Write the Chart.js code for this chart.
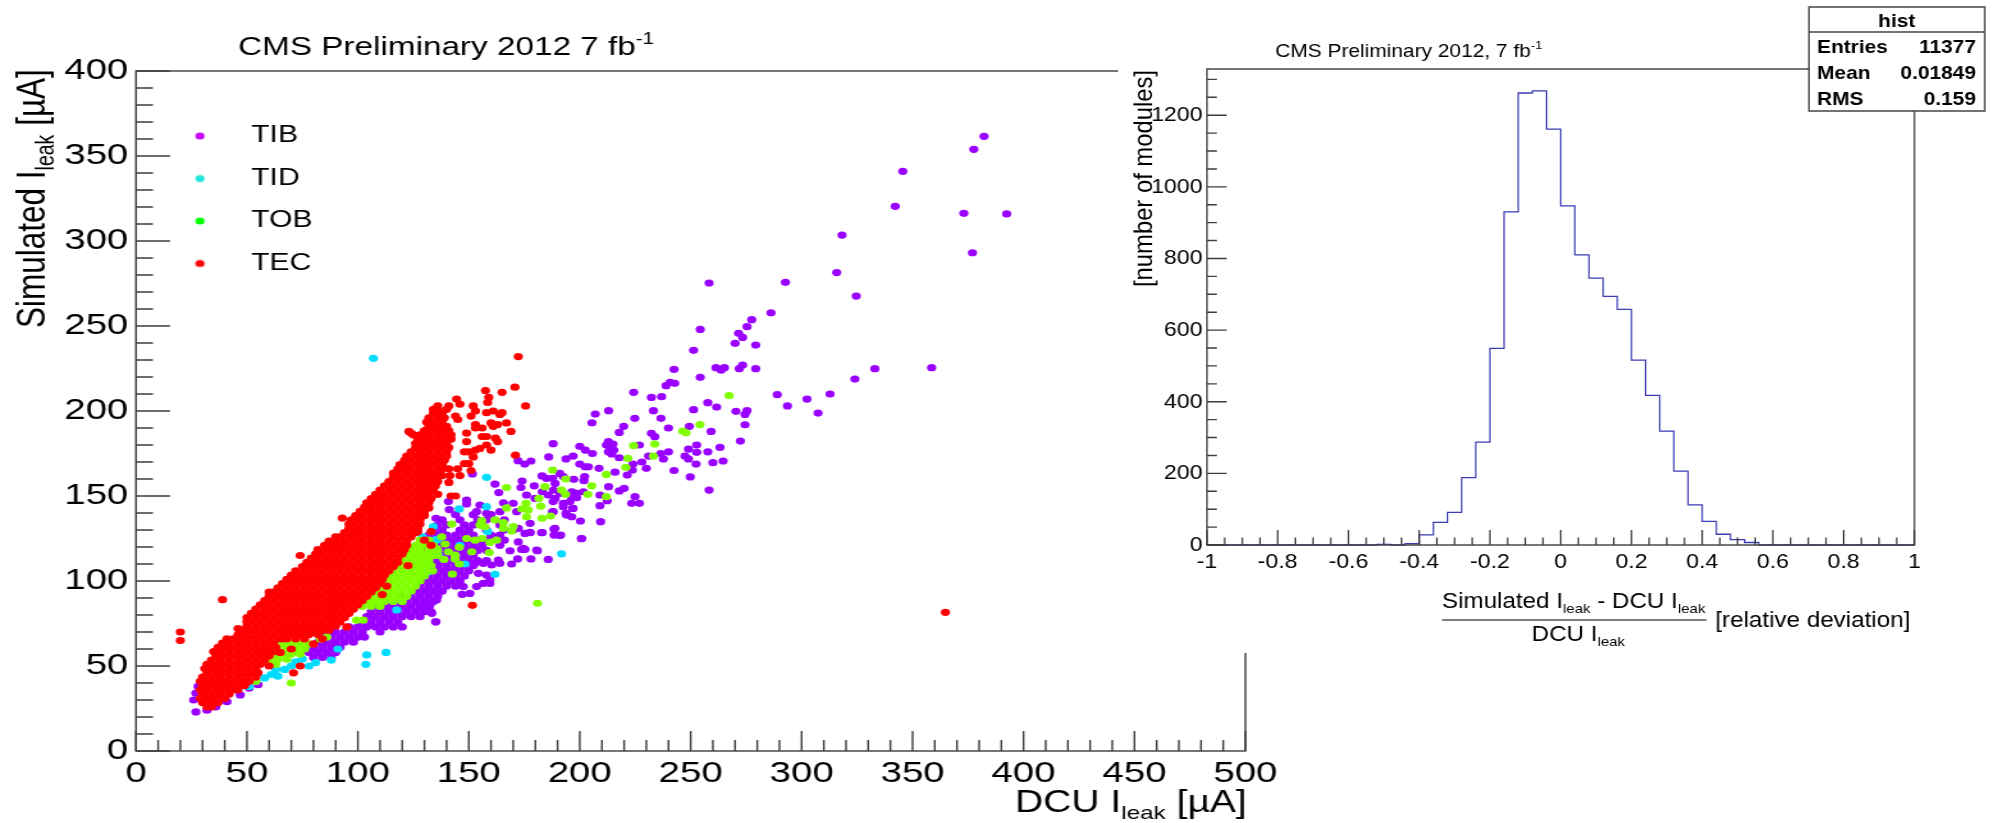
<!DOCTYPE html>
<html>
<head>
<meta charset="utf-8">
<title>CMS leakage current</title>
<script src="https://cdn.jsdelivr.net/npm/chart.js@4/dist/chart.umd.js"></script>
<style>
  html, body { margin: 0; background: #fff; }
  canvas { position: absolute; top: 0; transform-origin: 0 0; background: #fff; }
  #scatter { left: 0; transform: scaleX(1.28); }
  #hist { left: 1118px; transform: scaleX(1.1); }
</style>
</head>
<body>
<canvas id="scatter" width="1016" height="823"></canvas>
<canvas id="hist" width="796" height="653"></canvas>
<script>
var tibRows = [
  [55,80,84,88],[58,78,82,86,90],[61,80,84,88,92],[64,82,86,90,94,98],[67,84,88,92,96,100,103],[70,86,90,94,98,102,110],
  [73,96,100,104,108,112,116,120],[76,102,106,110,114,118,135],[79,104,108,112,116,120,124,128],[82,106,110,114,118,122,126,130,133],
  [85,108,112,116,120,124,128,132],[88,114,118,122,126,130,134],[91,120,124,128,132,136],[94,126,130,134,138],[97,128,132,136,140,144],
  [100,130,134,138,142,146],[103,132,136,140,144,148],[106,134,138,142,146,150],[109,132,136,140,144,148,152],[112,134,138,142,146,150,154,158],
  [115,132,136,140,144,148,152],[118,130,134,138,142,146,150,154,158],[121,132,136,140,144,148,152,156,164],
  [124,130,134,138,142,146,150,154,158,166],[127,132,136,140,144,148,152,160,164],[130,134,138,146,150,158,166,170],
  [133,136,140,148,152,156,164],[136,138,146,154,158,166],[139,144,152,160]
];
var tibPoints = [
  [27,23],[32,24],[36,26],[41,29],[47,33],[51,37],[26,30],[28,38],[27,34],[55,39],
  [382.2,361.6],[377.6,353.9],[345.6,341],[342.2,320.4],[373.1,316.3],[392.4,315.9],[318.2,303.5],[377,293.1],[315.8,281.4],[258.3,275.3],
  [292.7,275.7],[324.6,267.6],[286.2,257.8],[277.5,253.7],[275.4,249.6],[254.3,248],[271.6,245.7],[273.4,243.3],[270,239.8],[279.3,238.8],
  [251.3,235.7],[242.5,224.5],[273.4,227],[271.9,224.9],[261.4,225.5],[263.7,224.1],[265.2,225.5],[279.3,224.9],[254.3,219.8],[333,224.9],
  [358.6,225.5],[324,218.8],[312.8,210],[289,209.6],[302.4,207],[293.6,203],[307.4,198.8],[242.8,216.3],[240.7,216.9],[238.9,214.9],
  [224.3,211],[236.9,208.4],[232.3,208],[257.7,204.9],[261.7,202.3],[251.3,200.8],[270.4,199.8],[275.4,200.2],[274.5,198],[233.2,200.2],
  [213,200.2],[207,198.2],[224.8,195.7],[236.6,195.7],[205.5,193.1],[274.5,191.9],[219.8,191],[249.4,191],[240,190],[217.8,187.4],
  [259.2,188],[232.3,186.9],[233.8,184.9],[272.4,182.3],[212.9,182],[215,180.6],[212,180],[213.6,178],[215.4,177],[212.9,176],
  [214.4,174.7],[188,180.8],[226.9,180],[252.7,180],[200,179.2],[263.2,178.6],[249,177.6],[252.7,175.7],[257.7,176],[240,176],
  [236.5,175],[202.5,177],[205.7,175],[231,173.5],[247.4,173.5],[249,171.8],[237.7,171.8],[186,173],[193.8,171.8],[197,173.5],
  [217.8,172.5],[228,170],[224,168.8],[260,169.6],[264.6,170.6],[252.4,168.8],[200,168.8],[202.4,167.2],[203.9,167.2],[208.7,166.3],
  [172.2,170.8],[175.2,168.8],[178,170.6],[230,166.3],[223.7,165.3],[215.9,164],[242.5,165],[221.4,162.3],[249.8,161.2],[202.2,161.4],
  [201.9,159],[183,161.8],[185,160.4],[187.8,160.4],[191,163.3],[192.6,161.4],[197.3,159.8],[213,155.5],[220,154.5],[217.8,153],
  [258.3,153.5],[161.8,157],[174,158.8],[173.5,155],[163.5,152],[179.5,156],[183.1,152.5],[188.9,157.4],[188.1,153.5],[188.9,148.6],
  [191.1,151.6],[196.4,152.5],[198.6,149],[195.6,146.7],[209.1,150.6],[212.4,147.2],[224.9,149.6],[223.4,145.7],[226.9,145.7],[209.1,144.3],
  [196.8,142.7],[192.6,143.7],[187.8,140.8],[193.8,139.8],[196.4,137.8],[200.3,135.3],[209.4,134.9],[200.7,124.9],[177.6,133.9],[175.3,128],
  [177.6,128.6],[183.1,128.4],[188.4,130.6],[188.4,127],[191.4,127],[174.6,119.2],[180.6,118.2],[151.6,163],[140.8,146.7],[149,147.6],
  [141.2,142],[149,145.3],[165.6,146],[170,145.7],[155,144.7],[164,140.8],[171.6,140.8],[153.5,140.8],[158,139.8],[135.2,136.9],
  [172.3,131],[177.6,128.4],[182.8,128.4],[188.8,131],[191,126.7],[200.9,125],[172.3,123],[168.6,117.8],[173.8,118.6],[175.3,118.6],[180.9,117.8],
  [163.3,112.3],[172,113],[178,113],[185.8,112.7],[169.3,110],[152.8,110.4],[156.5,110.4],[160.3,109.4],[164,110.4],
  [154.3,104.5],[158,103.5],[159.5,100.6],[153.5,96.7],[156.5,98.6],[159.5,98.6],[147.5,96.7],[147,92.1],[150.5,92.7],[135.5,88.8],[132.5,85.9],[130.3,83.9],[133.3,81],[135.2,76],
  [176,150.6],[179.8,148.6],[185.8,150.6],[196.4,149.6],[198.6,151.6],[201.6,152.5],[188,146.7],[192.6,145.7],[197,142.7],[188,140.8],[194,138.8]
];
var tidPoints = [
  [51,38],[54,41],[58,43],[61,45],[64,44],[67,48],[70,50],[72,52.5],[75,54],[63,48],[78,50],[81,52],[88,53.5],[91,60],
  [104,56.5],[103.6,51],[112.7,58],[117.5,83],[107,231],[158,161],[145.7,142.4],[158,143.7],[158.5,129],[191.8,116],[161.8,103.9],[148.3,110],
  [146,121],[134,132],[135.5,124.5],[136.3,115.3],[131.8,105.5],[126,131],[129,126],[135.5,124],[129,111],[134,118]
];
var tobRows = [
  [85,102,106,110],[88,104,108,112,116,120],[91,106,110,114,118,122],[94,108,112,116,120,124],[97,106,110,114,118,122,126],
  [100,112,116,120,124,128],[103,114,118,122,126,130],[106,116,120,124,128,132],[109,118,122,126,130,133],[112,120,124,128,132],
  [115,122,126,130,134,136],[118,124,128,132,136],[121,126,130,134],[124,128,132],
  [51,60,63],[54,60,64,68],[57,62,66,70,74],[60,64,68,72,76],[63,66,70,74,78]
];
var tobPoints = [
  [54,41],[70,40],[181,86.9],[86,67],[83,66],[99.4,77],[102.4,77],[167,155],[184.3,155.5],[205.4,156],[203.6,151],[191.8,153.5],[193.6,151],
  [181.6,148.6],[182.4,144],[167,143],[175.8,145.7],[173.8,142.3],[176.8,141.8],[176,137.8],[183,136.9],[186.9,138.2],[142.3,133.5],[155.8,135.5],[155,132.9],
  [157.3,131.9],[161.8,135.9],[165.6,134.3],[165.6,131],[170,132],[169.3,129.4],[137.8,126],[149,125],[152.8,124],[156,125],[159.5,122.7],[162.5,124],
  [145.7,119.8],[151.3,117.2],[159.2,116.7],[139.3,121.7],[135.5,119],[140.8,117.2],[143.8,115.3],[143.8,112.9],[138.8,112.7],[145.7,110],[142.6,104],[133.7,106],
  [187.8,165.3],[193.7,160],[212,162.7],[220.8,166.9],[221.7,172.1],[224.3,179.6],[233.8,180.6],[233.2,173.5],[246.4,188.2],[247.9,187.2],[254.2,192],[267.3,209],[212,149.6]
];
var tecRows = [
  [26,32,34],[28.5,30,34,37],[31,29,32,36,40],[33.5,30,34,38,42],[36,29,32,36,40,44,46],[38.5,30,34,38,42,46,49],[41,29,32,36,40,44,48,51],
  [43.5,30,34,38,42,46,50,54],[46,32,36,40,44,48,52,55],[48.5,31,34,38,42,46,50,54],[51,32,36,40,44,48,52,56],[53.5,34,38,42,46,50,54,58],
  [56,36,40,44,48,52,56,60],[58.5,35,38,42,46,50,54,58,62],[61,37,40,44,48,52,56,60,63],[63.5,39,42,46,50,54,58,62],
  [66,41,44,48,52,56,60,64,68,72,76],[68.5,46,50,54,58,62,66,70,74,78,82],[71,48,52,56,60,64,68,72,76,80,84,87],
  [73.5,50,54,58,62,66,70,74,78,82,86,90],[76,50,52,56,60,64,68,72,76,80,84,88,92],[78.5,50,54,58,62,66,70,74,78,82,86,90,94],
  [81,52,56,60,64,68,72,76,80,84,88,92,96],[83.5,54,58,62,66,70,74,78,82,86,90,94,98],[86,56,60,64,68,72,76,80,84,88,92,96,100],
  [88.5,58,62,66,70,74,78,82,86,90,94,98,102],[91,60,64,68,72,76,80,84,88,92,96,100,104],[93.5,60,62,66,70,74,78,82,86,90,94,98,102,106],
  [96,64,68,72,76,80,84,88,92,96,100,104,108],[98.5,66,70,74,78,82,86,90,94,98,102,106,110],[101,68,72,76,80,84,88,92,96,100,104,108,111],
  [103.5,70,74,78,82,86,90,94,98,102,106,110,112],[106,72,76,80,84,88,92,96,100,104,108,112,114],[108.5,75,78,82,86,90,94,98,102,106,110,114,116],
  [111,77,80,84,88,92,96,100,104,108,112,116,118],[113.5,79,82,86,90,94,98,102,106,110,114,118],[116,81,84,88,92,96,100,104,108,112,116,120],
  [118.5,82,86,90,94,98,102,106,110,114,118,121],[121,85,88,92,96,100,104,108,112,116,120,122],[123.5,87,90,94,98,102,106,110,114,118,122],
  [126,90,92,96,100,104,108,112,116,120,124],[128.5,94,98,102,106,110,114,118,122,126],[131,96,100,104,108,112,116,120,124,127],
  [133.5,96,98,102,106,110,114,118,122,126,128],[136,97,100,104,108,112,116,120,124,128],[138.5,99,102,106,110,114,118,122,126,130],
  [141,101,104,108,112,116,120,124,128,130],[143.5,103,106,110,114,118,122,126,130],[146,104,108,112,116,120,124,128,132],
  [148.5,106,110,114,118,122,126,130,133],[151,108,112,116,120,124,128,132],[153.5,110,114,118,122,126,130,134],[156,112,116,120,124,128,132,135],
  [158.5,114,118,122,126,130,134,136],[161,116,120,124,128,132,136],[163.5,116,118,122,126,130,134,137],[166,118,120,124,128,132,136,138],
  [168.5,119,122,126,130,134,138],[171,121,124,128,132,136,139],[173.5,122,126,130,134,138,140],[176,124,128,132,136,140],[178.5,126,130,134,138,141],
  [181,126,128,132,136,140],[183.5,127,130,134,138,142],[186,128,132,136,140,142],[188.5,130,134,138,141],[191,132,136,140],[193.5,131,134,138],
  [196,132,136,139],[198.5,134,138],[201,134,136,140]
];
var tecPoints = [
  [172.3,232],[170.8,214],[157.5,212],[159,208],[165,211],[158.5,205],[175.6,203],[144.5,207],[146,204],[141,203],[136,203],[152,203],[153,200],[151,197],
  [158,199],[161,200],[165,199],[164,198],[144,197],[145,195],[167,193],[160,193],[163,192],[161,191],[153,190],[156,190],[153,192],[169,188],[149,187],
  [123,188],[125,186],[156,185],[158,185],[162,184],[163,182],[149,182],[158,180],[155,178],[153,177],[160,177],[150,176],[148,176],[171,174],[152,173],
  [150,169],[148,169],[145,166],[141,166],[151,165],[146,162],[141.5,162],[138,162],[141,158],[136,151],[142,150],[144,150],[132,143],
  [20,70],[20,65],[39,89],[46,72],[74,115],[93,137],[124,187],[151.6,85.7],[364.8,81.6],
  [122.6,109],[113,97],[111,92],[65,58],[70,60],[80,63],[60,50],[74,50],[71,46],[95,73],[133,129],[127,129],[133,121],[130,124],[66,66],[84,66]
];

var binLow = [-1,-0.96,-0.92,-0.88,-0.84,-0.8,-0.76,-0.72,-0.68,-0.64,-0.6,-0.56,-0.52,-0.48,-0.44,-0.4,-0.36,-0.32,-0.28,-0.24,-0.2,-0.16,-0.12,-0.08,-0.04,
  0,0.04,0.08,0.12,0.16,0.2,0.24,0.28,0.32,0.36,0.4,0.44,0.48,0.52,0.56,0.6,0.64,0.68,0.72,0.76,0.8,0.84,0.88,0.92,0.96,1];
var binCounts = [0,0,0,0,0,0,0,0,0,0,0,0,2,0,4,28,63,91,188,287,549,930,1262,1268,1161,
  947,810,745,694,658,516,418,318,206,112,66,30,15,7,0,0,0,0,0,0,0,0,0,0,0,0];

var statLabels = ["Entries", "Mean", "RMS"];
var statValues = ["11377", "0.01849", "0.159"];

var seriesNames = ["TIB", "TID", "TOB", "TEC"];
var seriesColors = ["#9900ff", "#00dcff", "#80ff00", "#ff0000"];
var legendColors = ["#cc00ff", "#1fe8d8", "#00ff00", "#ff0000"];

var FONT = '"Liberation Sans", Arial, sans-serif';

function toXY(rows, points) {
  var out = [];
  rows.forEach(function (r) {
    for (var i = 1; i < r.length; i++) out.push({ x: r[i], y: r[0] });
  });
  points.forEach(function (p) { out.push({ x: p[0], y: p[1] }); });
  return out;
}

// a stretched pointStyleWidth gives an ellipse, so the legend gets a small round dot image
function legendDot(color) {
  var c = document.createElement("canvas");
  c.width = 10;
  c.height = 10;
  var g = c.getContext("2d");
  g.fillStyle = color;
  g.beginPath();
  g.arc(5, 5, 3.6, 0, Math.PI * 2);
  g.fill();
  return c;
}

// text with sub/superscripts, segs = [[text, "sub"|"sup"|undefined], ...]
function drawRich(ctx, x, y, segs, size) {
  ctx.textAlign = "left";
  ctx.textBaseline = "alphabetic";
  ctx.fillStyle = "#000";
  segs.forEach(function (s) {
    var sz = s[1] ? size * 0.62 : size;
    var dy = s[1] === "sub" ? size * 0.22 : s[1] === "sup" ? -size * 0.42 : 0;
    ctx.font = sz + "px " + FONT;
    ctx.fillText(s[0], x, y + dy);
    x += ctx.measureText(s[0]).width;
  });
}

function drawRotated(ctx, x, y, segs, size) {
  ctx.save();
  ctx.translate(x, y);
  ctx.rotate(-Math.PI / 2);
  drawRich(ctx, 0, 0, segs, size);
  ctx.restore();
}

// ROOT style frame with inward major and minor ticks, placed through the scales
function framePlugin(o) {
  return {
    id: "frame",
    afterDatasetsDraw: function (chart) {
      var ctx = chart.ctx, a = chart.chartArea, sx = chart.scales.x, sy = chart.scales.y;
      ctx.save();
      ctx.strokeStyle = "#3c3c3c";
      ctx.lineWidth = 1.4;
      ctx.strokeRect(a.left, a.top, a.right - a.left, a.bottom - a.top);
      ctx.beginPath();
      var i, n, v, len, p;
      n = Math.round((sx.max - sx.min) / o.xMinor);
      for (i = 0; i <= n; i++) {
        v = sx.min + i * o.xMinor;
        len = i % o.xEvery === 0 ? o.xMajorLen : o.xMinorLen;
        p = sx.getPixelForValue(v);
        ctx.moveTo(p, a.bottom);
        ctx.lineTo(p, a.bottom - len);
      }
      n = Math.floor((sy.max - sy.min) / o.yMinor);
      for (i = 0; i <= n; i++) {
        v = sy.min + i * o.yMinor;
        len = i % o.yEvery === 0 ? o.yMajorLen : o.yMinorLen;
        p = sy.getPixelForValue(v);
        ctx.moveTo(a.left, p);
        ctx.lineTo(a.left + len, p);
      }
      ctx.stroke();
      ctx.restore();
    }
  };
}

var scatterText = {
  id: "scatterText",
  afterLayout: function (chart) {
    chart.legend.left = 128 - 19;
    chart.legend.top = 136 - 19 - 11.75;
  },
  afterDraw: function (chart) {
    var ctx = chart.ctx;
    ctx.save();
    drawRich(ctx, 186, 55, [["CMS Preliminary 2012 7 fb"], ["-1", "sup"]], 26);
    drawRich(ctx, 793, 812, [["DCU I"], ["leak", "sub"], [" [\u00b5A]"]], 30.5);
    drawRotated(ctx, 35, 328, [["Simulated I"], ["leak", "sub"], [" [\u00b5A]"]], 31.5);
    ctx.restore();
  }
};

var histText = {
  id: "histText",
  afterDraw: function (chart) {
    var ctx = chart.ctx;
    ctx.save();
    drawRich(ctx, 143, 57, [["CMS Preliminary 2012, 7 fb"], ["-1", "sup"]], 19);
    drawRotated(ctx, 31, 287, [["[number of modules]"]], 23.8);
    drawRich(ctx, 294.5, 608, [["Simulated I"], ["leak", "sub"], [" - DCU I"], ["leak", "sub"]], 22);
    drawRich(ctx, 376, 641, [["DCU I"], ["leak", "sub"]], 22);
    drawRich(ctx, 543, 627, [["[relative deviation]"]], 22);
    ctx.strokeStyle = "#000";
    ctx.lineWidth = 1.2;
    ctx.beginPath();
    ctx.moveTo(294.5, 620);
    ctx.lineTo(535, 620);
    ctx.stroke();

    // stats box
    ctx.fillStyle = "#fff";
    ctx.fillRect(628.2, 7, 159.8, 104);
    ctx.strokeStyle = "#444";
    ctx.lineWidth = 1.5;
    ctx.strokeRect(628.2, 7, 159.8, 104);
    ctx.beginPath();
    ctx.moveTo(628.2, 32);
    ctx.lineTo(788, 32);
    ctx.stroke();
    ctx.fillStyle = "#000";
    ctx.font = "bold 19px " + FONT;
    ctx.textAlign = "center";
    ctx.fillText("hist", 708, 27);
    var rowY = [53, 79, 105];
    statLabels.forEach(function (l, i) {
      ctx.textAlign = "left";
      ctx.fillText(l, 635.5, rowY[i]);
      ctx.textAlign = "right";
      ctx.fillText(statValues[i], 780, rowY[i]);
    });
    ctx.restore();
  }
};

var seriesData = [toXY(tibRows, tibPoints), toXY([], tidPoints), toXY(tobRows, tobPoints), toXY(tecRows, tecPoints)];

new Chart(document.getElementById("scatter").getContext("2d"), {
  type: "scatter",
  data: {
    datasets: seriesNames.map(function (name, i) {
      return {
        label: name,
        data: seriesData[i],
        backgroundColor: seriesColors[i],
        borderWidth: 0,
        pointRadius: 3.6,
        pointHoverRadius: 3.6,
        order: 3 - i
      };
    })
  },
  options: {
    responsive: false,
    animation: false,
    layout: { padding: { top: 71, right: 43, bottom: 0, left: 0 } },
    plugins: {
      tooltip: { enabled: false },
      legend: {
        position: "chartArea",
        align: "start",
        labels: {
          usePointStyle: true,
          pointStyleWidth: 56.5,
          boxHeight: 5,
          padding: 19,
          color: "#000",
          font: { family: FONT, size: 23.5 },
          generateLabels: function (chart) {
            var items = Chart.defaults.plugins.legend.labels.generateLabels(chart);
            items.sort(function (a, b) { return a.datasetIndex - b.datasetIndex; });
            items.forEach(function (l) {
              l.pointStyle = legendDot(legendColors[l.datasetIndex]);
            });
            return items;
          }
        }
      }
    },
    scales: {
      x: {
        type: "linear", min: 0, max: 500,
        afterFit: function (s) { s.height = 72; },
        grid: { display: false, drawTicks: false },
        border: { display: false },
        ticks: { stepSize: 50, color: "#000", padding: 5, maxRotation: 0, autoSkip: false, font: { family: FONT, size: 30 } }
      },
      y: {
        type: "linear", min: 0, max: 400,
        afterFit: function (s) { s.width = 106.25; },
        grid: { display: false, drawTicks: false },
        border: { display: false },
        ticks: { stepSize: 50, color: "#000", padding: 6, autoSkip: false, font: { family: FONT, size: 30 } }
      }
    }
  },
  plugins: [framePlugin({ xMinor: 10, xEvery: 5, xMajorLen: 20, xMinorLen: 11, yMinor: 10, yEvery: 5, yMajorLen: 26.6, yMinorLen: 13.3 }), scatterText]
});

new Chart(document.getElementById("hist").getContext("2d"), {
  type: "line",
  data: {
    datasets: [{
      label: "hist",
      data: binLow.map(function (b, i) { return { x: b, y: binCounts[i] }; }),
      stepped: "before",
      borderColor: "#3c3cb4",
      borderWidth: 1.3,
      pointRadius: 0,
      clip: false
    }]
  },
  options: {
    responsive: false,
    animation: false,
    layout: { padding: { top: 69, right: 72, bottom: 0, left: 0 } },
    plugins: { legend: { display: false }, tooltip: { enabled: false } },
    scales: {
      x: {
        type: "linear", min: -1, max: 1,
        afterFit: function (s) { s.height = 108; },
        grid: { display: false, drawTicks: false },
        border: { display: false },
        ticks: {
          stepSize: 0.2, color: "#000", padding: 5, maxRotation: 0, autoSkip: false, font: { family: FONT, size: 21 },
          callback: function (v) { return String(Number(v.toFixed(1))); }
        }
      },
      y: {
        type: "linear", min: 0, max: 1329,
        afterFit: function (s) { s.width = 80.9; },
        grid: { display: false, drawTicks: false },
        border: { display: false },
        ticks: {
          stepSize: 200, includeBounds: false, color: "#000", padding: 4, autoSkip: false, font: { family: FONT, size: 21 },
          callback: function (v) { return String(v); }
        }
      }
    }
  },
  plugins: [framePlugin({ xMinor: 0.05, xEvery: 4, xMajorLen: 15, xMinorLen: 7.5, yMinor: 50, yEvery: 4, yMajorLen: 18, yMinorLen: 9 }), histText]
});
</script>
</body>
</html>
